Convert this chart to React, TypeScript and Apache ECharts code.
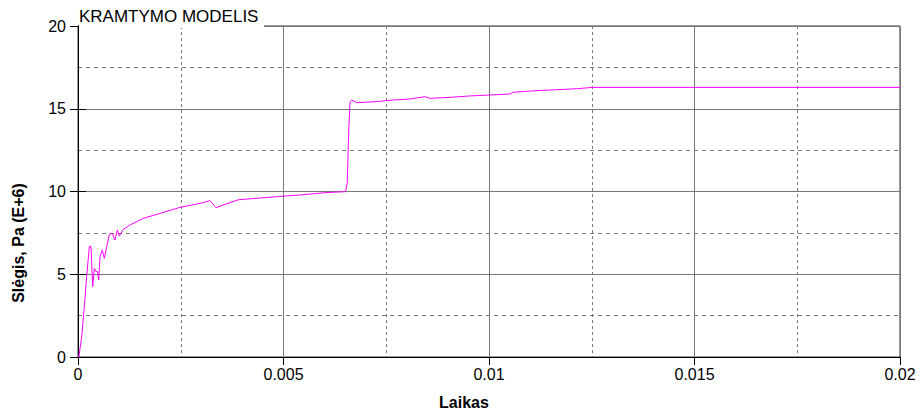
import React, { useEffect, useRef } from "react";
import * as echarts from "echarts";

const titleText = "KRAMTYMO MODELIS";
const xName = "Laikas";
const yName = "Slėgis, Pa (E+6)";

const times = [
  0, 0.00002, 0.00009, 0.000154, 0.00021, 0.000276, 0.000316, 0.000357, 0.000397,
  0.000438, 0.000475, 0.000503, 0.000535, 0.000592, 0.00064, 0.000698, 0.000762,
  0.000835, 0.0009, 0.000957, 0.001006, 0.0011, 0.00127, 0.00159, 0.002, 0.00248,
  0.00297, 0.00321, 0.00336, 0.00355, 0.0039, 0.0049, 0.0054, 0.00601, 0.00651,
  0.00655, 0.00659, 0.00662, 0.00666, 0.00678, 0.00727, 0.00767, 0.00808, 0.00844,
  0.00856, 0.00905, 0.00958, 0.01002, 0.01051, 0.01059, 0.01088, 0.01128, 0.01165,
  0.01213, 0.01252, 0.02,
];
const pressures = [
  0, 0, 1.23, 3.04, 4.85, 6.67, 6.67, 4.25, 5.36,
  5.16, 5.16, 4.65, 6.06, 6.47, 5.96, 6.67, 7.41,
  7.47, 7.07, 7.67, 7.31, 7.71, 7.98, 8.38, 8.68, 9.04,
  9.28, 9.45, 9.02, 9.2, 9.5, 9.7, 9.79, 9.93, 9.99,
  10.5, 13.9, 15.43, 15.53, 15.37, 15.43, 15.53, 15.59, 15.73,
  15.63, 15.69, 15.78, 15.83, 15.89, 15.99, 16.05, 16.11, 16.15,
  16.21, 16.29, 16.29,
];

export default function App() {
  const ref = useRef<HTMLDivElement>(null);
  useEffect(() => {
    if (!ref.current) return;
    const chart = echarts.init(ref.current, null, { renderer: "svg" });
    const font = "'Liberation Sans', Arial, sans-serif";
    const data = times.map((t, i) => [t, pressures[i]]);
    chart.setOption({
      animation: false,
      backgroundColor: "#fff",
      textStyle: { fontFamily: font },
      grid: {
        left: 78,
        right: 22,
        top: 26,
        bottom: 62,
        show: true,
        borderColor: "#333",
        borderWidth: 1,
        backgroundColor: "transparent",
      },
      xAxis: {
        type: "value",
        min: 0,
        max: 0.02,
        interval: 0.005,
        axisLine: { show: true, onZero: false, lineStyle: { color: "#000", width: 1 } },
        axisTick: { show: true, length: 8, lineStyle: { color: "#000" } },
        axisLabel: {
          color: "#000",
          fontSize: 16,
          fontFamily: font,
          margin: 9,
          formatter: (v: number) => String(Number(v.toFixed(4))),
        },
        splitLine: { show: true, lineStyle: { color: "#777", width: 1 } },
        minorTick: { show: false, splitNumber: 2 },
        minorSplitLine: { show: true, lineStyle: { color: "#777", type: [3, 3], width: 1 } },
      },
      yAxis: [
        {
          type: "value",
          min: 0,
          max: 20,
          interval: 5,
          axisLine: { show: true, onZero: false, lineStyle: { color: "#000", width: 1 } },
          axisTick: { show: true, length: 8, lineStyle: { color: "#000" } },
          axisLabel: { color: "#000", fontSize: 16, fontFamily: font, margin: 12 },
          splitLine: { show: true, lineStyle: { color: "#777", width: 1 } },
          minorTick: { show: false, splitNumber: 2 },
          minorSplitLine: { show: true, lineStyle: { color: "#777", type: [4, 4], width: 1 } },
        },
        {
          type: "value",
          position: "left",
          min: 0,
          max: 20,
          interval: 5,
          axisLine: { show: false },
          axisTick: { show: true, inside: true, length: 8, lineStyle: { color: "#000" } },
          axisLabel: { show: false },
          splitLine: { show: false },
        },
      ],
      series: [
        {
          type: "line",
          data,
          showSymbol: false,
          symbol: "none",
          lineStyle: { color: "#ff00ff", width: 1 },
          z: 5,
        },
      ],
      graphic: [
        {
          type: "rect",
          z: 100,
          shape: { x: 79, y: 4, width: 185, height: 24 },
          style: { fill: "#fff" },
        },
        {
          type: "text",
          z: 101,
          x: 79,
          y: 25,
          style: {
            text: titleText,
            fontSize: 17,
            fontFamily: font,
            fill: "#000",
            verticalAlign: "bottom",
          },
        },
        {
          type: "text",
          z: 101,
          x: 464,
          y: 402,
          style: {
            text: xName,
            fontSize: 16,
            fontWeight: "bold",
            fontFamily: font,
            fill: "#000",
            align: "center",
            verticalAlign: "middle",
          },
        },
        {
          type: "text",
          z: 101,
          x: 18,
          y: 243,
          rotation: Math.PI / 2,
          style: {
            text: yName,
            fontSize: 16,
            fontWeight: "bold",
            fontFamily: font,
            fill: "#000",
            align: "center",
            verticalAlign: "middle",
          },
        },
      ],
    });
    return () => chart.dispose();
  }, []);
  return (
    <div
      ref={ref}
      style={{ position: "fixed", left: 0, top: 0, width: 922, height: 419 }}
    />
  );
}
